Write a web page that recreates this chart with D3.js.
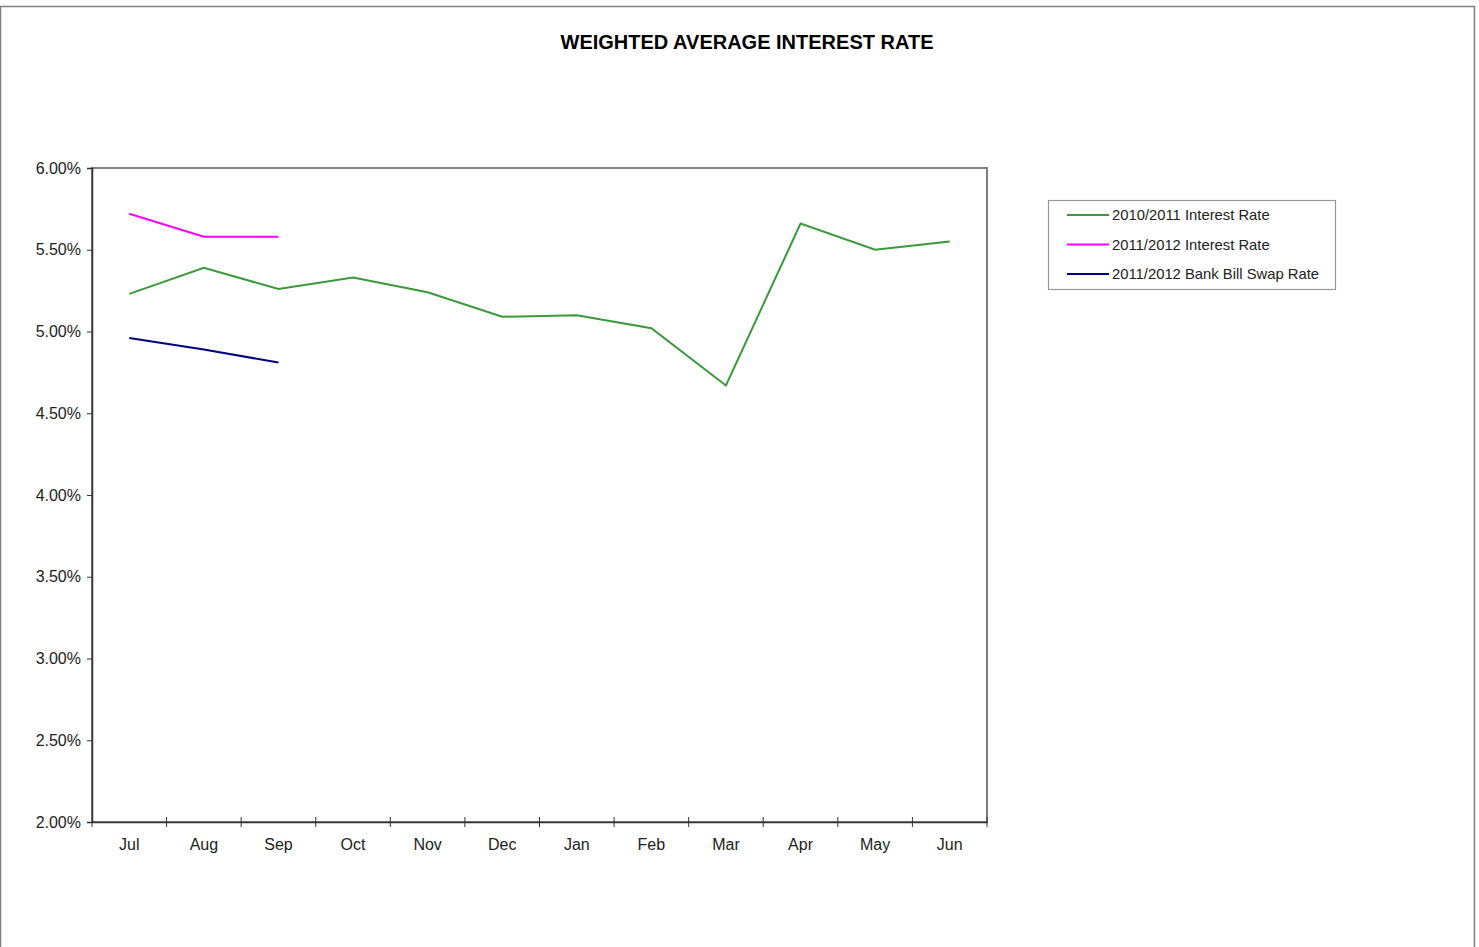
<!DOCTYPE html>
<html><head><meta charset="utf-8">
<script src="https://cdn.jsdelivr.net/npm/d3@7"></script>
<style>body{margin:0;background:#fff;}svg{display:block;font-family:"Liberation Sans",Arial,sans-serif;}</style>
</head><body>
<svg id="c" width="1479" height="947"></svg>
<script>
const months = ["Jul","Aug","Sep","Oct","Nov","Dec","Jan","Feb","Mar","Apr","May","Jun"];
const rate1011 = [5.23,5.39,5.26,5.33,5.24,5.09,5.10,5.02,4.67,5.66,5.50,5.55];
const rate1112 = [5.72,5.58,5.58];
const swap1112 = [4.96,4.89,4.81];
const yTicks = [2.0,2.5,3.0,3.5,4.0,4.5,5.0,5.5,6.0];
const seriesNames = ["2010/2011 Interest Rate","2011/2012 Interest Rate","2011/2012 Bank Bill Swap Rate"];
const seriesColors = ["#3a9a3a","#ff00ff","#000080"];

const svg = d3.select("#c");
// page frame
svg.append("path").attr("d","M0.5,947 V6.5 H1474.5 V947").attr("fill","none").attr("stroke","#808080").attr("stroke-width",1.5);

const L=92,R=987,T=168,B=822;
const x = d3.scaleBand().domain(months).range([L,R]);
const y = d3.scaleLinear().domain([2,6]).range([B,T]);

svg.append("text").attr("x",747).attr("y",49).attr("text-anchor","middle")
  .attr("font-weight","bold").attr("font-size",20).attr("fill","#000").text("WEIGHTED AVERAGE INTEREST RATE");

// plot border
svg.append("rect").attr("x",L).attr("y",T).attr("width",R-L).attr("height",B-T)
  .attr("fill","none").attr("stroke","#808080").attr("stroke-width",2);

const yAxis = svg.append("g").attr("transform",`translate(${L},0)`)
  .call(d3.axisLeft(y).tickValues(yTicks).tickSize(5).tickPadding(6).tickFormat(d=>d.toFixed(2)+"%"));
yAxis.select(".domain").attr("stroke","#333").attr("stroke-width",1.5);
yAxis.selectAll(".tick line").attr("stroke","#333");
yAxis.selectAll("text").attr("font-size",16).attr("fill","#222").attr("font-family","Liberation Sans, Arial, sans-serif");

const xAxis = svg.append("g").attr("transform",`translate(0,${B})`)
  .call(d3.axisBottom(x).tickSize(0).tickPadding(17));
xAxis.select(".domain").attr("stroke","#333").attr("stroke-width",1.5);
xAxis.selectAll("text").attr("font-size",16).attr("fill","#222").attr("font-family","Liberation Sans, Arial, sans-serif");
// tick marks between categories
svg.append("g").selectAll("line").data(months).join("line")
  .attr("x1",d=>x(d)+x.bandwidth()).attr("x2",d=>x(d)+x.bandwidth())
  .attr("y1",B-5).attr("y2",B+5).attr("stroke","#333").attr("stroke-width",1);
svg.append("line").attr("x1",L).attr("x2",L).attr("y1",B).attr("y2",B+5).attr("stroke","#333");

const line = d3.line().x((d,i)=>x(months[i])+x.bandwidth()/2).y(d=>y(d));
[rate1011,rate1112,swap1112].forEach((s,k)=>{
  svg.append("path").attr("d",line(s)).attr("fill","none").attr("stroke",seriesColors[k]).attr("stroke-width",2);
});

// legend
const lg = svg.append("g");
lg.append("rect").attr("x",1048.5).attr("y",200.5).attr("width",287).attr("height",89)
  .attr("fill","#fff").attr("stroke","#999").attr("stroke-width",1.2);
seriesNames.forEach((n,k)=>{
  const yy = 215 + k*29.5;
  lg.append("line").attr("x1",1067).attr("x2",1109).attr("y1",yy).attr("y2",yy).attr("stroke",seriesColors[k]).attr("stroke-width",2);
  lg.append("text").attr("x",1112).attr("y",yy+5).attr("font-size",14.8).attr("fill","#222").text(n);
});
</script>
</body></html>
